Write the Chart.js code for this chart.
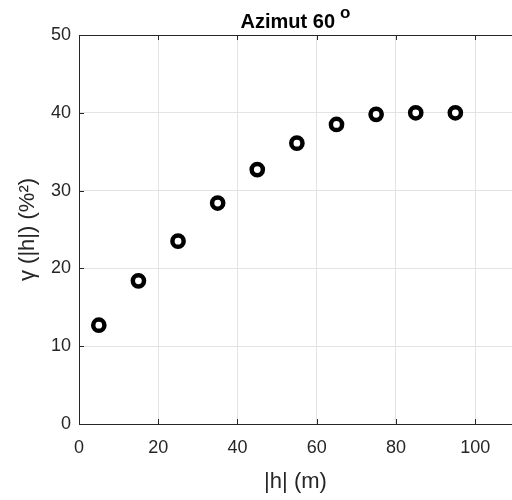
<!DOCTYPE html>
<html>
<head>
<meta charset="utf-8">
<script src="https://cdn.jsdelivr.net/npm/chart.js@4.4.1/dist/chart.umd.min.js"></script>
<style>
  html, body { margin: 0; padding: 0; background: #fff; }
  #wrap { width: 512px; height: 500px; }
</style>
</head>
<body>
<div id="wrap"><canvas id="chart" width="512" height="500"></canvas></div>
<script>
// lag distances |h| (m) and semivariance values (%^2)
const lags = [5, 15, 25, 35, 45, 55, 65, 75, 85, 95];
const gamma = [12.7, 18.4, 23.5, 28.4, 32.7, 36.1, 38.5, 39.8, 40.0, 40.0];
const xTicks = [0, 20, 40, 60, 80, 100];
const yTicks = [0, 10, 20, 30, 40, 50];

const axisColor = '#262626';
const gridColor = '#e3e3e3';
const fontFamily = '"Liberation Sans", Arial, Helvetica, sans-serif';

// MATLAB-style box: top border + inner tick marks + title with superscript
const matlabBox = {
    id: 'matlabBox',
    afterDraw(chart) {
        const c = chart.ctx;
        const a = chart.chartArea;
        const xs = chart.scales.x, ys = chart.scales.y;
        c.save();
        c.strokeStyle = axisColor;
        c.lineWidth = 1;
        c.beginPath();
        c.moveTo(a.left, a.top + 0.5);
        c.lineTo(a.right, a.top + 0.5);
        xTicks.forEach(v => {
            const px = Math.round(xs.getPixelForValue(v)) + 0.5;
            c.moveTo(px, a.top); c.lineTo(px, a.top + 5);
            c.moveTo(px, a.bottom); c.lineTo(px, a.bottom - 5);
        });
        yTicks.forEach(v => {
            const py = Math.round(ys.getPixelForValue(v)) + 0.5;
            c.moveTo(a.left, py); c.lineTo(a.left + 5, py);
        });
        c.stroke();

        // title
        const cx = (a.left + a.right) / 2;
        const main = 'Azimut 60';
        c.fillStyle = '#000';
        c.textBaseline = 'alphabetic';
        c.textAlign = 'left';
        c.font = 'bold 20px ' + fontFamily;
        const w1 = c.measureText(main).width;
        c.font = 'bold 17px ' + fontFamily;
        const w2 = c.measureText('o').width;
        const gap = 5;
        const x0 = cx - (w1 + gap + w2) / 2;
        c.font = 'bold 20px ' + fontFamily;
        c.fillText(main, x0, 28);
        c.font = 'bold 17px ' + fontFamily;
        c.fillText('o', x0 + w1 + gap, 18);
        c.restore();
    }
};

new Chart(document.getElementById('chart'), {
    type: 'scatter',
    data: {
        datasets: [{
            data: lags.map((h, i) => ({ x: h, y: gamma[i] })),
            pointStyle: 'circle',
            pointRadius: 5.6,
            pointBorderWidth: 4.5,
            pointBorderColor: '#000',
            pointBackgroundColor: '#fff',
            pointHoverRadius: 5.6
        }]
    },
    options: {
        responsive: false,
        animation: false,
        events: [],
        layout: { autoPadding: false, padding: { top: 35, right: 0, left: 0, bottom: 0 } },
        plugins: {
            legend: { display: false },
            tooltip: { enabled: false }
        },
        scales: {
            x: {
                type: 'linear',
                min: 0,
                max: 109.3,
                afterBuildTicks: s => { s.ticks = xTicks.map(v => ({ value: v })); },
                afterFit: s => { s.height = 76; s.paddingRight = 0; },
                grid: { color: gridColor, drawTicks: false },
                border: { color: axisColor, width: 1 },
                ticks: {
                    color: axisColor,
                    padding: 13,
                    maxRotation: 0,
                    font: { family: fontFamily, size: 18 }
                },
                title: {
                    display: true,
                    text: '|h| (m)',
                    color: axisColor,
                    padding: { top: 0, bottom: 5 },
                    font: { family: fontFamily, size: 22 }
                }
            },
            y: {
                type: 'linear',
                min: 0,
                max: 50,
                afterBuildTicks: s => { s.ticks = yTicks.map(v => ({ value: v })); },
                afterFit: s => { s.width = 79; },
                grid: { color: gridColor, drawTicks: false },
                border: { color: axisColor, width: 1 },
                ticks: {
                    color: axisColor,
                    padding: 8,
                    font: { family: fontFamily, size: 18 }
                },
                title: {
                    display: true,
                    text: 'γ (|h|) (%²)',
                    color: axisColor,
                    padding: { top: 15, bottom: 4 },
                    font: { family: fontFamily, size: 22 }
                }
            }
        }
    },
    plugins: [matlabBox]
});
</script>
</body>
</html>
